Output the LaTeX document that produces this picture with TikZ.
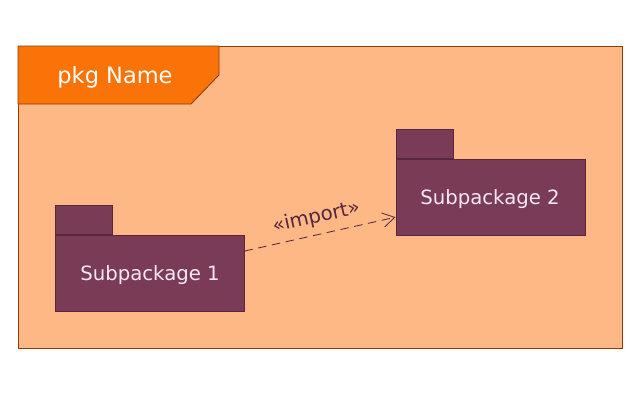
\documentclass[tikz,border=0pt]{standalone}
\usepackage{fontspec}
\setmainfont{DejaVu Sans}
\usetikzlibrary{arrows.meta, positioning, calc}

\definecolor{framefill}{RGB}{253,184,134}
\definecolor{frameline}{RGB}{140,60,10}
\definecolor{tabfill}{RGB}{249,115,8}
\definecolor{pkgfill}{RGB}{122,59,87}
\definecolor{pkgline}{RGB}{88,38,62}
\definecolor{pkgtext}{RGB}{246,232,240}

\begin{document}
\begin{tikzpicture}[
  x=0.025cm, y=-0.025cm,
  pkg/.style    ={draw=pkgline, fill=pkgfill, line width=0.6pt,
                  minimum width=4.725cm, minimum height=1.9cm, inner sep=0pt,
                  text=pkgtext, font=\fontsize{14}{16}\selectfont},
  pkgtab/.style ={draw=pkgline, fill=pkgfill, line width=0.6pt,
                  minimum width=1.425cm, minimum height=0.725cm, inner sep=0pt,
                  anchor=south west},
  pkglabel/.style={text=pkgtext, font=\fontsize{14}{16}\selectfont},
  % import dependency ------------------------------------------------
  dep/.style    ={draw=pkgline, line width=0.6pt, dash pattern=on 6pt off 4pt,
                  -{Straight Barb[length=3mm, width=3.6mm]}},
]
\useasboundingbox (0,0) rectangle (640,395);

% =========================== FRAME ==================================
\draw[frameline, fill=framefill, line width=0.6pt] (18,46) rectangle (622,348);
\draw[frameline, fill=tabfill, line width=0.6pt]
  (18,46) -- (219,46) -- (219,75) -- (191,104) -- (18,104) -- cycle;
\node[text=white, font=\fontsize{16}{18}\selectfont] (title) at (115,77) {pkg Name};

% =========================== PACKAGES ===============================
\node[pkg] (sp1) at (149.5,273) {};
\node[pkglabel] (sp1name) at (150,275.5) {Subpackage 1};
\node[pkgtab] (sp1tab) at (sp1.north west) {};
\node[pkg] (sp2) at (490.5,197) {};
\node[pkglabel] (sp2name) at (490,199.5) {Subpackage 2};
\node[pkgtab] (sp2tab) at (sp2.north west) {};

% =========================== IMPORT =================================
\draw[dep] (sp1.13) -- node[midway, above, sloped, text=pkgline,
  font=\fontsize{14}{16}\selectfont, inner sep=5pt] {«import»} (sp2.192);

\end{tikzpicture}
\end{document}
